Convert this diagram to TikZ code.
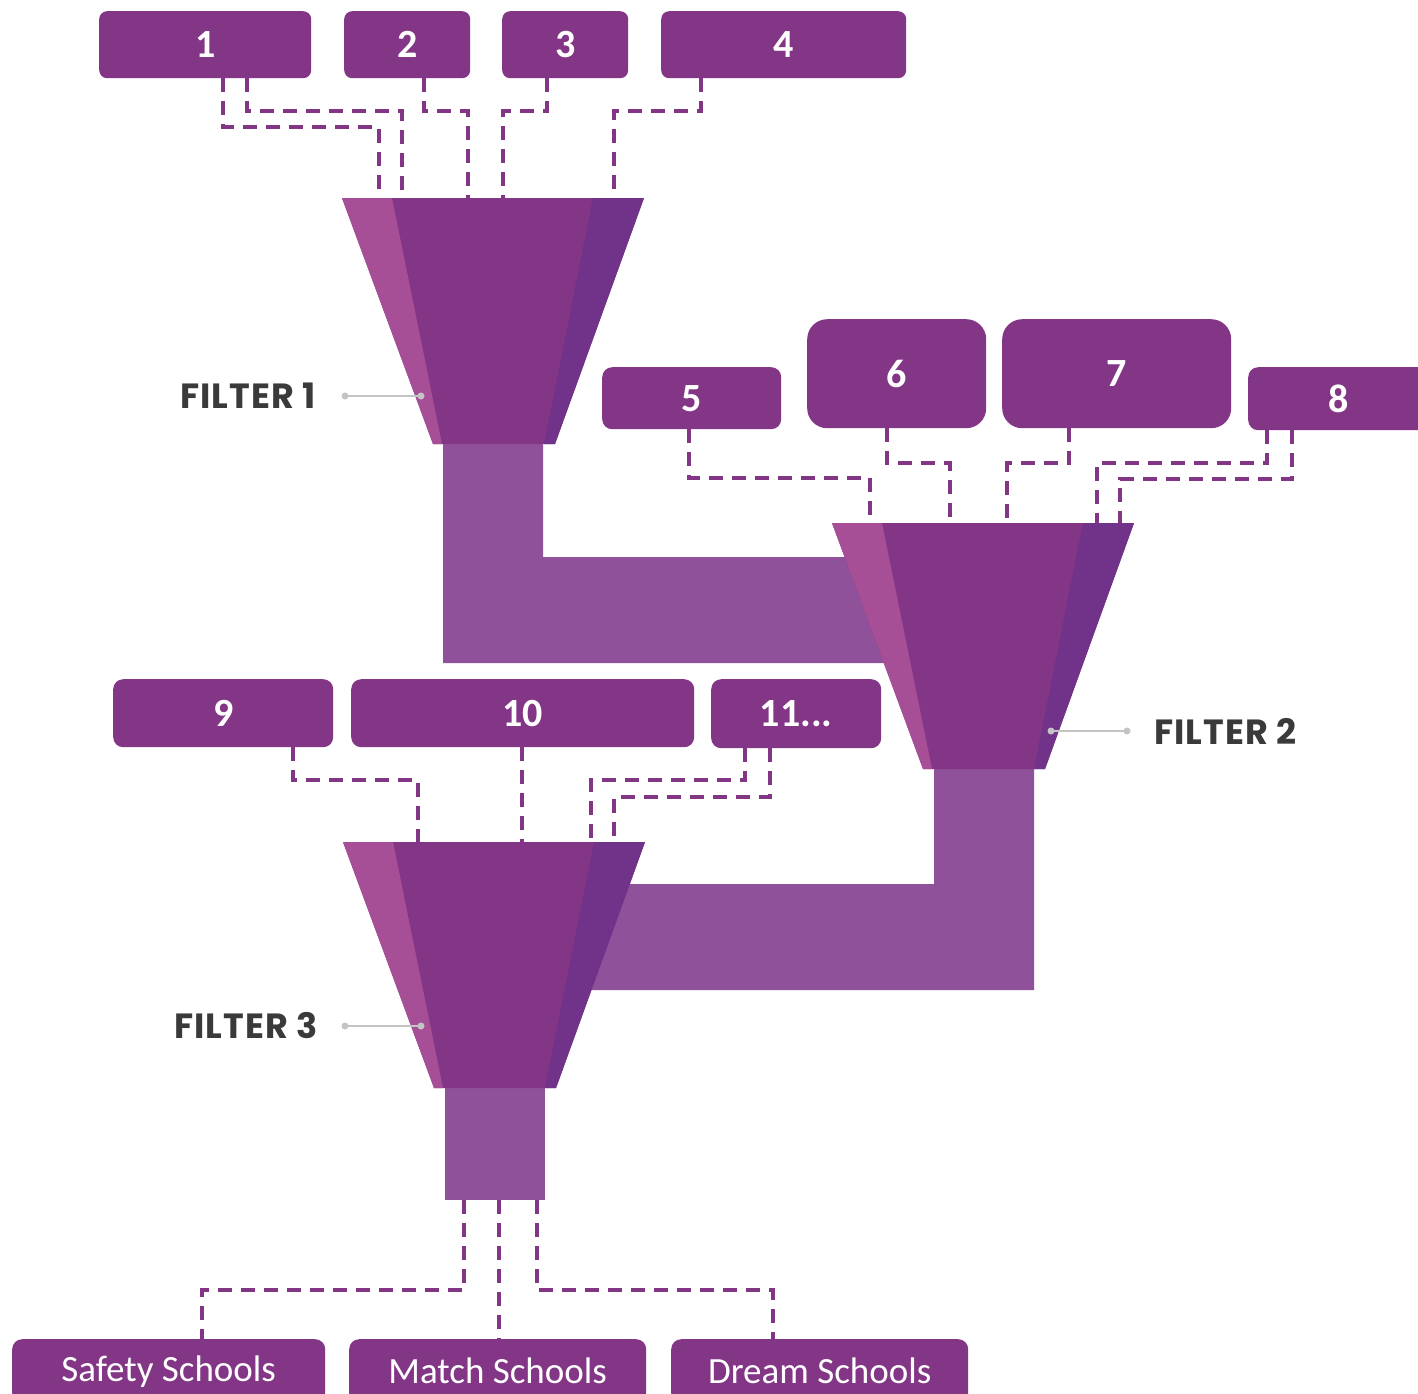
\documentclass[tikz,border=0pt]{standalone}
\usepackage{fontspec}
\setmainfont{Carlito}
\newfontfamily\filterfont{Poppins}[LetterSpace=3]
\usetikzlibrary{calc}
\definecolor{pmain}{HTML}{833586}
\definecolor{plight}{HTML}{A64F97}
\definecolor{pdark}{HTML}{703389}
\definecolor{pstem}{HTML}{8F529A}
\definecolor{leadc}{HTML}{C4C4C4}
\definecolor{ltext}{HTML}{3A3A3A}
\begin{document}
\begin{tikzpicture}[x=1pt,y=-1pt,
  box/.style={fill=pmain, text=white, inner sep=0pt, anchor=north west, rounded corners=8pt,
    font=\fontsize{40}{40}\selectfont\bfseries},
  schoolbox/.style={fill=pmain, text=white, inner sep=0pt, anchor=north west, rounded corners=10pt,
    minimum height=64pt, font=\fontsize{37}{37}\selectfont},
  conn/.style={draw=pmain, line width=3.5pt, dash pattern=on 14pt off 9pt},
  leader/.style={draw=leadc, line width=1.5pt},
  filterlab/.style={text=ltext, inner sep=0pt, font=\filterfont\bfseries\fontsize{35}{35}\selectfont},
  stem/.style={fill=pstem},
  funnel/.pic={
    \fill[pmain] (0,0) -- (302,0) -- (213,246) -- (91,246) -- cycle;
    \fill[plight] (0,0) -- (50,0) -- (100,246) -- (91,246) -- cycle;
    \fill[pdark] (251,0) -- (302,0) -- (213,246) -- (202,246) -- cycle;
    \coordinate (-top) at (151,0);
    \coordinate (-bot) at (151,246);
  }]
\useasboundingbox (0,0) rectangle (1418,1393);
\clip (0,0) rectangle (1418,1393);
\fill[white] (0,0) rectangle (1418,1393);

% stems (behind funnels)
\fill[stem] (443,440) -- (543,440) -- (543,557) -- (900,557) -- (900,663) -- (443,663) -- cycle;
\fill[stem] (934,765) -- (1034,765) -- (1034,990) -- (570,990) -- (570,884) -- (934,884) -- cycle;
\fill[stem] (445,1085) rectangle (545,1200);
\coordinate (s3) at (495,1200);

% funnels
\pic (f1) at (342,198) {funnel};
\pic (f2) at (832,523) {funnel};
\pic (f3) at (343,842) {funnel};

% boxes
\node[box, minimum width=212pt, minimum height=67pt] (b1) at (99,11) {\raisebox{-2pt}{1}};
\node[box, minimum width=126pt, minimum height=67pt] (b2) at (344,11) {\raisebox{-2pt}{2}};
\node[box, minimum width=126pt, minimum height=67pt] (b3) at (502,11) {\raisebox{-2pt}{3}};
\node[box, minimum width=245pt, minimum height=67pt] (b4) at (661,11) {\raisebox{-2pt}{4}};
\node[box, rounded corners=10pt, minimum width=179pt, minimum height=62pt] (b5) at (602,367) {\raisebox{-2pt}{5}};
\node[box, rounded corners=20pt, minimum width=179pt, minimum height=109pt] (b6) at (807,319) {\raisebox{-2pt}{6}};
\node[box, rounded corners=20pt, minimum width=229pt, minimum height=109pt] (b7) at (1002,319) {\raisebox{-2pt}{7}};
\node[box, rounded corners=10pt, minimum width=180pt, minimum height=63pt] (b8) at (1248,367) {\raisebox{-2pt}{8}};
\node[box, rounded corners=10pt, minimum width=220pt, minimum height=68pt] (b9) at (113,679) {\raisebox{-2pt}{9}};
\node[box, rounded corners=10pt, minimum width=343pt, minimum height=68pt] (b10) at (351,679) {\raisebox{-2pt}{10}};
\node[box, rounded corners=10pt, minimum width=170pt, minimum height=69pt] (b11) at (711,679) {\raisebox{-2pt}{11...}};
\node[schoolbox, minimum width=313pt] (safe) at (12,1339) {Safety Schools};
\node[schoolbox, minimum width=297pt] (match) at (349,1339) {Match Schools};
\node[schoolbox, minimum width=297pt] (dream) at (671,1339) {Dream Schools};

% connectors to filter 1
\draw[conn] (223,0 |- b1.south) |- (379,127) -- (379,0 |- f1-top);
\draw[conn] (247,0 |- b1.south) |- (402,111) -- (402,0 |- f1-top);
\draw[conn] (424,0 |- b2.south) |- (468,111) -- (468,0 |- f1-top);
\draw[conn] (547,0 |- b3.south) |- (503,111) -- (503,0 |- f1-top);
\draw[conn] (701,0 |- b4.south) |- (614,111) -- (614,0 |- f1-top);

% connectors to filter 2
\draw[conn] (689,0 |- b5.south) |- (870,478) -- (870,0 |- f2-top);
\draw[conn] (887,0 |- b6.south) |- (950,463) -- (950,0 |- f2-top);
\draw[conn] (1069,0 |- b7.south) |- (1007,463) -- (1007,0 |- f2-top);
\draw[conn] (1267,0 |- b8.south) |- (1097,463) -- (1097,0 |- f2-top);
\draw[conn] (1292,0 |- b8.south) |- (1120,479) -- (1120,0 |- f2-top);

% connectors to filter 3
\draw[conn] (293,0 |- b9.south) |- (418,780) -- (418,0 |- f3-top);
\draw[conn] (522,0 |- b10.south) -- (522,0 |- f3-top);
\draw[conn] (745,0 |- b11.south) |- (591,780) -- (591,0 |- f3-top);
\draw[conn] (770,0 |- b11.south) |- (614,797) -- (614,0 |- f3-top);

% outputs
\draw[conn] (464,0 |- s3) |- (202,1290) -- (202,0 |- safe.north);
\draw[conn] (499,0 |- s3) -- (499,0 |- match.north);
\draw[conn] (537,0 |- s3) |- (773,1290) -- (773,0 |- dream.north);

% filter labels
\node[filterlab, anchor=east] (l1) at (316,396) {FILTER 1};
\node[filterlab, anchor=west] (l2) at (1154,731) {FILTER 2};
\node[filterlab, anchor=east] (l3) at (318,1026) {FILTER 3};
\draw[leader] (345,396) -- (421,396);
\fill[leadc] (345,396) circle (3.5pt) (421,396) circle (3.5pt);
\draw[leader] (1051,731) -- (1127,731);
\fill[leadc] (1051,731) circle (3.5pt) (1127,731) circle (3.5pt);
\draw[leader] (345,1026) -- (421,1026);
\fill[leadc] (345,1026) circle (3.5pt) (421,1026) circle (3.5pt);
\end{tikzpicture}
\end{document}
